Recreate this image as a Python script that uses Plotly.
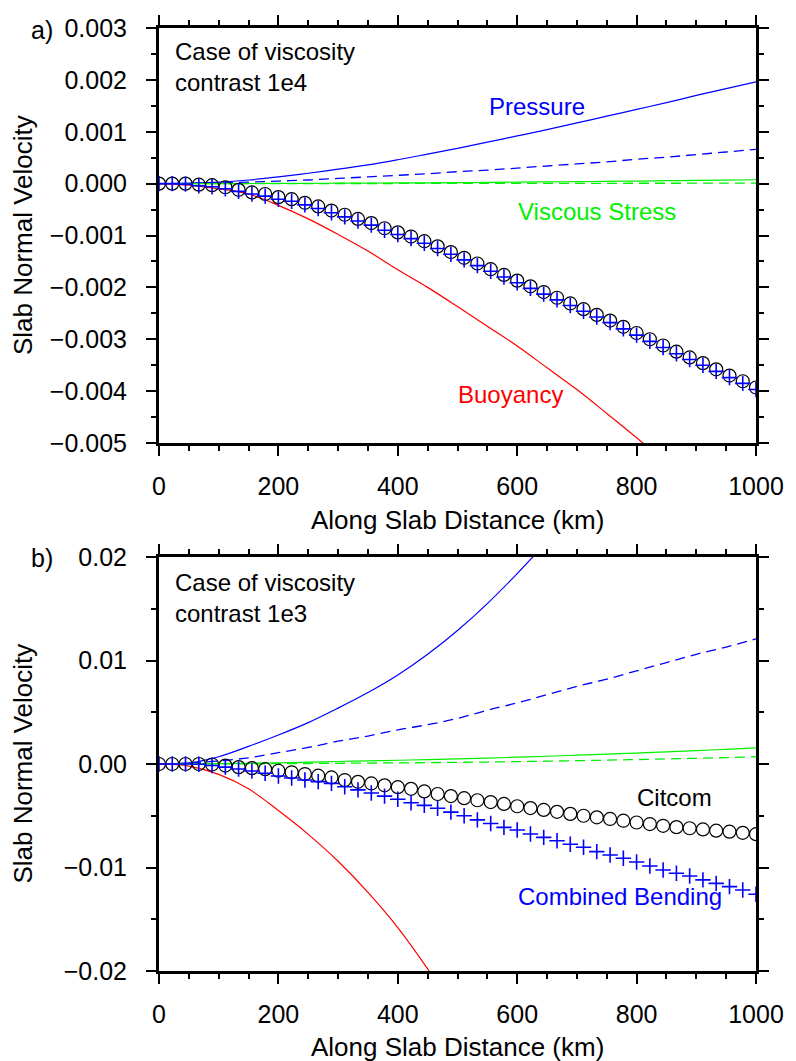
import plotly.graph_objects as go

# ---------------- data ----------------
dist50 = [0, 50, 100, 150, 200, 250, 300, 350, 400, 450, 500,
          550, 600, 650, 700, 750, 800, 850, 900, 950, 1000]
nodes = [0, 22.2, 44.4, 66.7, 88.9, 111.1, 133.3, 155.6, 177.8, 200.0,
         222.2, 244.4, 266.7, 288.9, 311.1, 333.3, 355.6, 377.8, 400.0, 422.2,
         444.4, 466.7, 488.9, 511.1, 533.3, 555.6, 577.8, 600.0, 622.2, 644.4,
         666.7, 688.9, 711.1, 733.3, 755.6, 777.8, 800.0, 822.2, 844.4, 866.7,
         888.9, 911.1, 933.3, 955.6, 977.8, 1000.0]

# (a) viscosity contrast 1e4
a_pressure = [0, 0.00001, 0.00003, 0.00007, 0.00013, 0.0002, 0.00028, 0.00036, 0.00046, 0.00057,
              0.00068, 0.0008, 0.00092, 0.00104, 0.00117, 0.0013, 0.00143, 0.00156, 0.0017, 0.00183, 0.00196]
a_pressure_d = [0, 0.000003, 0.00001, 0.00003, 0.00005, 0.00007, 0.0001, 0.00013, 0.00016, 0.00019,
                0.00023, 0.00026, 0.0003, 0.00034, 0.00038, 0.00042, 0.00047, 0.00051, 0.00056, 0.00061, 0.00066]
a_viscous = [0, 0, 0, 0.000002, 0.000004, 0.000006, 0.000008, 0.00001, 0.000013, 0.000016,
             0.00002, 0.000024, 0.000028, 0.000033, 0.000038, 0.000044, 0.00005, 0.000056, 0.000062, 0.000068, 0.000075]
a_viscous_d = [0, 0, 0, 0, 0.000001, 0.000001, 0.000002, 0.000002, 0.000003, 0.000003,
               0.000004, 0.000004, 0.000005, 0.000005, 0.000006, 0.000006, 0.000007, 0.000007, 0.000008, 0.000008, 0.000009]
a_buoy_x = [0, 50, 100, 150, 200, 250, 300, 350, 400, 450, 500, 550, 600, 650, 700, 750, 800, 850]
a_buoyancy = [0, -0.00003, -0.0001, -0.0002, -0.00042, -0.00068, -0.00098, -0.0013, -0.00166, -0.002,
              -0.00237, -0.00275, -0.00313, -0.00355, -0.00397, -0.00443, -0.0049, -0.0054]
a_citcom = [0, 0, 0, -0.00002, -0.00003, -0.00007, -0.00012, -0.00017, -0.0002, -0.00026,
            -0.0003, -0.00037, -0.00044, -0.00052, -0.0006, -0.00068, -0.00076, -0.00086, -0.00094, -0.00102,
            -0.00111, -0.00121, -0.00132, -0.00143, -0.00154, -0.00165, -0.00176, -0.00187, -0.00198, -0.00209,
            -0.0022, -0.00231, -0.00242, -0.00253, -0.00264, -0.00276, -0.00288, -0.003, -0.00312, -0.00324,
            -0.00335, -0.00346, -0.00358, -0.0037, -0.00381, -0.00393]
a_bending = [0, 0, -0.00001, -0.00004, -0.00006, -0.0001, -0.00015, -0.0002, -0.00024, -0.0003,
             -0.00034, -0.00041, -0.00048, -0.00056, -0.00064, -0.00072, -0.0008, -0.0009, -0.00098, -0.00106,
             -0.00115, -0.00125, -0.00136, -0.00147, -0.00158, -0.00169, -0.0018, -0.00191, -0.00202, -0.00213,
             -0.00224, -0.00235, -0.00246, -0.00257, -0.00268, -0.0028, -0.00292, -0.00304, -0.00316, -0.00328,
             -0.00339, -0.0035, -0.00362, -0.00374, -0.00385, -0.00397]

# (b) viscosity contrast 1e3
b_press_x = [0, 50, 100, 150, 200, 250, 300, 350, 400, 450, 500, 550, 600, 650]
b_pressure = [0, 0.0001, 0.0007, 0.0017, 0.0028, 0.004, 0.0054, 0.0069, 0.0086, 0.0106,
              0.0129, 0.0155, 0.0184, 0.0215]
b_pressure_d = [0, 0.0001, 0.0003, 0.0006, 0.0011, 0.0016, 0.0022, 0.0027, 0.0033, 0.0038,
                0.0044, 0.0052, 0.0059, 0.0067, 0.0075, 0.0082, 0.009, 0.0098, 0.0106, 0.0113, 0.0121]
b_viscous = [0, 0.00001, 0.00003, 0.00007, 0.00012, 0.00018, 0.00024, 0.0003, 0.00036, 0.00042,
             0.00049, 0.00057, 0.00066, 0.00075, 0.00085, 0.00095, 0.00106, 0.00117, 0.00129, 0.00142, 0.00155]
b_viscous_d = [0, 0, 0.00001, 0.00002, 0.00003, 0.00005, 0.00007, 0.00009, 0.00011, 0.00013,
               0.00016, 0.00019, 0.00023, 0.00027, 0.00032, 0.00037, 0.00043, 0.00049, 0.00055, 0.00062, 0.0007]
b_buoy_x = [0, 50, 100, 150, 200, 250, 300, 350, 400, 450, 500]
b_buoyancy = [0, -0.0002, -0.001, -0.0024, -0.0045, -0.0068, -0.0094, -0.0124, -0.0158, -0.0198, -0.0242]
b_citcom = [0, 0, 0, 0, -0.00005, -0.00015, -0.0003, -0.0004, -0.0005, -0.00065,
            -0.0008, -0.00097, -0.00113, -0.0013, -0.00155, -0.00172, -0.00188, -0.00206, -0.00224, -0.0024,
            -0.00265, -0.0029, -0.0031, -0.0033, -0.0035, -0.00368, -0.00386, -0.00408, -0.00426, -0.00444,
            -0.00462, -0.00482, -0.005, -0.00515, -0.00531, -0.00548, -0.00565, -0.0058, -0.00597, -0.0061,
            -0.00621, -0.00632, -0.00644, -0.00654, -0.00665, -0.00678]
b_bending = [0, 0, 0, -0.00003, -0.00015, -0.0003, -0.00048, -0.00068, -0.0009, -0.00116,
             -0.00135, -0.00155, -0.0017, -0.00187, -0.0022, -0.0025, -0.0028, -0.0031, -0.0034, -0.00374,
             -0.004, -0.00428, -0.00465, -0.005, -0.0054, -0.00575, -0.00612, -0.00638, -0.00676, -0.00709,
             -0.00741, -0.00776, -0.00805, -0.00847, -0.00879, -0.00911, -0.00947, -0.00986, -0.01024, -0.01056,
             -0.01082, -0.0112, -0.01153, -0.01185, -0.01217, -0.01259]

x_ticks = [0, 200, 400, 600, 800, 1000]

# ---------------- layout helpers ----------------
W, H = 796, 1061
L, R, T, B = 159, 33, 28, 90
PW, PH = W - L - R, H - T - B


def px(x):
    return (x - L) / PW


def py(y):
    return (H - B - y) / PH


BLUE, GREEN, RED = "rgb(0,0,255)", "rgb(0,240,0)", "rgb(255,0,0)"
FONT = "Liberation Sans, Arial, Helvetica, sans-serif"
FS = 24
TFS = 25

fig = go.Figure()


def add_panel(xa, ya, p, pd_, pxs, v, vd, bx, b, cit, bend):
    fig.add_trace(go.Scatter(x=pxs, y=p, mode="lines", line=dict(color=BLUE, width=1.2, shape="spline"),
                             xaxis=xa, yaxis=ya))
    fig.add_trace(go.Scatter(x=dist50, y=pd_, mode="lines",
                             line=dict(color=BLUE, width=1.3, dash="10px,6px", shape="spline"),
                             xaxis=xa, yaxis=ya))
    fig.add_trace(go.Scatter(x=dist50, y=v, mode="lines", line=dict(color=GREEN, width=1.2, shape="spline"),
                             xaxis=xa, yaxis=ya))
    fig.add_trace(go.Scatter(x=dist50, y=vd, mode="lines",
                             line=dict(color=GREEN, width=1.3, dash="10px,6px", shape="spline"),
                             xaxis=xa, yaxis=ya))
    fig.add_trace(go.Scatter(x=bx, y=b, mode="lines", line=dict(color=RED, width=1.2, shape="spline"),
                             xaxis=xa, yaxis=ya))
    fig.add_trace(go.Scatter(x=nodes, y=cit, mode="markers",
                             marker=dict(symbol="circle-open", size=13, color="black", line=dict(width=1.2)),
                             xaxis=xa, yaxis=ya))
    fig.add_trace(go.Scatter(x=nodes, y=bend, mode="markers",
                             marker=dict(symbol="cross-thin-open", size=11, color=BLUE,
                                         line=dict(width=1.6, color=BLUE)),
                             xaxis=xa, yaxis=ya))


add_panel("x", "y", a_pressure, a_pressure_d, dist50, a_viscous, a_viscous_d,
          a_buoy_x, a_buoyancy, a_citcom, a_bending)
add_panel("x2", "y2", b_pressure, b_pressure_d, b_press_x, b_viscous, b_viscous_d,
          b_buoy_x, b_buoyancy, b_citcom, b_bending)

axis_common = dict(
    showline=True, linewidth=3, linecolor="black", mirror="allticks",
    ticks="outside", ticklen=10, tickwidth=1.5, tickcolor="black",
    showgrid=False, zeroline=False,
    tickfont=dict(size=TFS, color="black", family=FONT),
)

top_dom = [py(443), py(28)]
bot_dom = [py(971), py(557)]

fig.update_layout(
    width=W, height=H,
    margin=dict(l=L, r=R, t=T, b=B, pad=0),
    paper_bgcolor="white", plot_bgcolor="white",
    showlegend=False,
    font=dict(family=FONT, size=FS, color="black"),
    xaxis=dict(axis_common, domain=[0, 1], anchor="y", range=[0, 1000],
               tickvals=x_ticks, ticklabelstandoff=9,
               minor=dict(ticks="outside", ticklen=5, tickwidth=1.5, tickcolor="black", dtick=50, tick0=0, showgrid=False)),
    yaxis=dict(axis_common, domain=top_dom, anchor="x", range=[-0.005, 0.003],
               dtick=0.001, tick0=0, tickformat=".3f", ticklabelstandoff=14,
               minor=dict(ticks="outside", ticklen=5, tickwidth=1.5, tickcolor="black", dtick=0.0005, tick0=0, showgrid=False)),
    xaxis2=dict(axis_common, domain=[0, 1], anchor="y2", range=[0, 1000],
                tickvals=x_ticks, ticklabelstandoff=9,
                minor=dict(ticks="outside", ticklen=5, tickwidth=1.5, tickcolor="black", dtick=50, tick0=0, showgrid=False)),
    yaxis2=dict(axis_common, domain=bot_dom, anchor="x2", range=[-0.02, 0.02],
                dtick=0.01, tick0=0, tickformat=".2f", ticklabelstandoff=14,
                minor=dict(ticks="outside", ticklen=5, tickwidth=1.5, tickcolor="black", dtick=0.005, tick0=0, showgrid=False)),
)


def note(text, x, y, color="black", xanchor="center", angle=0, size=FS, align="center"):
    fig.add_annotation(text=text, x=px(x), y=py(y), xref="paper", yref="paper",
                       xanchor=xanchor, yanchor="middle", showarrow=False, textangle=angle,
                       align=align, font=dict(size=size, color=color, family=FONT))


# panel labels
note("a)", 27, 30, xanchor="left", size=TFS)
note("b)", 27, 558, xanchor="left", size=TFS)
# case texts
note("Case of viscosity<br>contrast 1e4", 173, 67, xanchor="left", align="left")
note("Case of viscosity<br>contrast 1e3", 173, 598, xanchor="left", align="left")
# curve labels
note("Pressure", 541, 107, color=BLUE)
note("Viscous Stress", 602, 211, color=GREEN)
note("Buoyancy", 515, 394, color=RED)
note("Citcom", 681, 797)
note("Combined Bending", 625, 896, color=BLUE)
# axis titles
note("Slab Normal Velocity", 21, 235.5, angle=-90, size=26)
note("Slab Normal Velocity", 21, 764, angle=-90, size=26)
note("Along Slab Distance (km)", 461, 520, size=26)
note("Along Slab Distance (km)", 461, 1047, size=26)

fig.write_html("out.html")
